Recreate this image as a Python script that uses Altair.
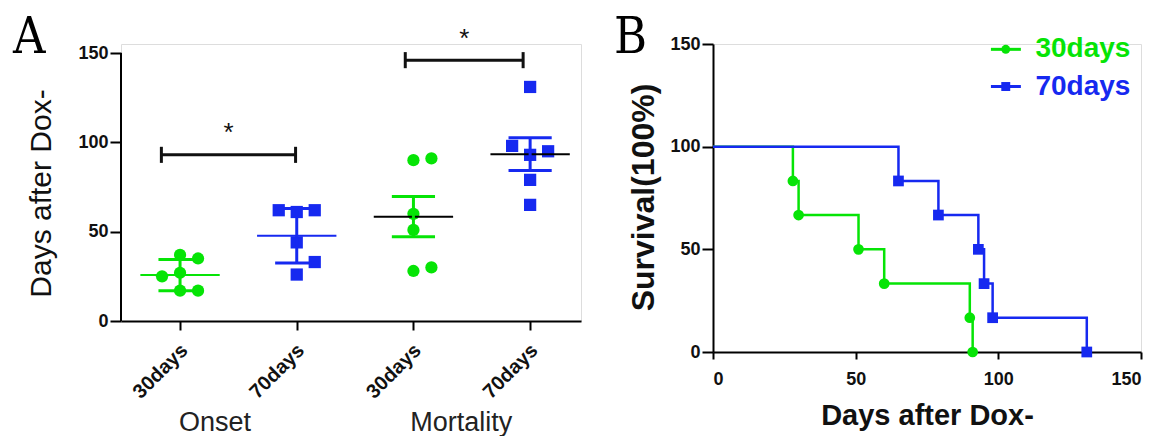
import json
import altair as alt
import pandas as pd

GREEN = "#06e406"
BLUE = "#1629f0"
SANS = "Liberation Sans"
SERIF = "DejaVu Serif Condensed, Liberation Serif"

# ---------------- data: panel A (dot plot) ----------------
a_categories = ["30days", "70days", "30days", "70days"]
a_groups = ["Onset", "Mortality"]
a_values = [
    [37, 35, 27, 25, 17, 17],
    [62, 62, 61, 44, 33, 26],
    [91, 90, 60, 51, 30, 28],
    [131, 98, 95, 93, 79, 65],
]
a_means = [25.7, 47.7, 58.4, 93.4]
a_errs = [8.7, 15.3, 11.3, 9.1]
a_sig_x1 = [0.84, 2.93]
a_sig_x2 = [1.99, 3.94]
a_sig_y = [93, 146]
a_sig_text = ["*", "*"]
a_yticks = [0, 50, 100, 150]

# ---------------- data: panel B (survival) ----------------
b_series = ["30days", "70days"]
b_times = [[28, 30, 51, 60, 90, 91], [65, 79, 93, 95, 98, 131]]
b_surv = [[83.3, 66.7, 50, 33.3, 16.7, 0], [83.3, 66.7, 50, 33.3, 16.7, 0]]
b_ticks = [0, 50, 100, 150]

# ---------------- layout constants ----------------
A_W, A_H0 = 460, 268          # plot area of A for 0..150
TOP_GAP = 9                    # A's 150 sits 9px below B's 150
A_H = A_H0 + TOP_GAP
B_W, B_H = 428, 308
A_XDOM = [0.494, 4.436]
px_x = A_W / (A_XDOM[1] - A_XDOM[0])
px_y = A_H0 / 150.0
A_YMAX = 150 + TOP_GAP / px_y
LETTER_Y = -31
LETTER_SIZE = 50
color_scale = alt.Scale(domain=b_series, range=[GREEN, BLUE])
shape_scale = alt.Scale(domain=b_series, range=["circle", "square"])


def swarm(vals, step_px=18, thresh=15):
    placed = []
    slots = [0] * len(vals)
    for i in sorted(range(len(vals)), key=lambda k: vals[k]):
        ypx = vals[i] * px_y
        for s in [0, 1, -1, 2, -2, 3, -3]:
            if all(((s - ps) * step_px) ** 2 + (ypx - py) ** 2 >= thresh ** 2 for py, ps in placed):
                slots[i] = s
                placed.append((ypx, s))
                break
    return slots


pts = []
for gi, vals in enumerate(a_values):
    for v, s in zip(vals, swarm(vals)):
        pts.append({"x": gi + 1 + s * 18 / px_x, "v": v, "series": a_categories[gi]})
pts = pd.DataFrame(pts)

stats = pd.DataFrame({
    "pos": [i + 1 for i in range(4)],
    "mean": a_means,
    "lo": [m - e for m, e in zip(a_means, a_errs)],
    "hi": [m + e for m, e in zip(a_means, a_errs)],
    "col": [(GREEN if c == "30days" else BLUE) if i < 2 else "black" for i, c in enumerate(a_categories)],
    "ecol": [GREEN if c == "30days" else BLUE for c in a_categories],
})
stats["m1"] = stats["pos"] - 0.34
stats["m2"] = stats["pos"] + 0.34
stats["c1"] = stats["pos"] - 0.185
stats["c2"] = stats["pos"] + 0.185
caps = pd.concat([
    stats.assign(cy=stats["lo"]),
    stats.assign(cy=stats["hi"]),
])

sig = pd.DataFrame({"x1": a_sig_x1, "x2": a_sig_x2, "y": a_sig_y, "t": a_sig_text})
sig["xm"] = (sig["x1"] + sig["x2"]) / 2
sig["ys"] = sig["y"] + 12
sig_caps = pd.concat([
    pd.DataFrame({"x": sig["x1"], "ya": sig["y"] - 4.5, "yb": sig["y"] + 4.5}),
    pd.DataFrame({"x": sig["x2"], "ya": sig["y"] - 4.5, "yb": sig["y"] + 4.5}),
])
grp = pd.DataFrame({"x": [1.30, 3.41], "t": a_groups})
yline = pd.DataFrame({"y0": [min(a_yticks)], "y1": [max(a_yticks)]})

label_expr = json.dumps(a_categories) + "[datum.value - 1]"
xs_a = alt.Scale(domain=A_XDOM, nice=False, zero=False)
ys_a = alt.Scale(domain=[0, A_YMAX], nice=False)
x_axis_a = alt.Axis(values=[1, 2, 3, 4], labelExpr=label_expr, labelAngle=-45,
                    labelAlign="right", labelBaseline="middle", labelFontSize=20,
                    labelFontWeight="bold", labelFont=SANS, labelColor="#111",
                    labelPadding=17, labelOffset=4, tickSize=9, tickWidth=2,
                    tickColor="black", domainColor="black", domainWidth=2,
                    grid=False, title=None)
y_axis_a = alt.Axis(values=a_yticks, format="d", labelFontSize=18, labelFontWeight="bold",
                    labelFont=SANS, labelColor="#111", labelPadding=2, tickSize=11, tickWidth=2,
                    tickColor="black", domain=False, grid=False,
                    title="Days after Dox-", titleFont=SANS, titleFontSize=30,
                    titleFontWeight="normal", titleColor="#111", titleX=-71, titleY=149,
                    titleAngle=270, titleAlign="center", titleBaseline="alphabetic")


def XA(f):
    return alt.X(f, type="quantitative", scale=xs_a, axis=x_axis_a, title=None)


def YA(f):
    return alt.Y(f, type="quantitative", scale=ys_a, axis=y_axis_a, title="Days after Dox-")


yaxis_line = alt.Chart(yline).mark_rule(strokeWidth=2, color="black").encode(
    x=alt.value(0), y=YA("y0"), y2="y1")
points_a = alt.Chart(pts).mark_point(filled=True, opacity=1, size=150).encode(
    x=XA("x"), y=YA("v"),
    color=alt.Color("series:N", scale=color_scale, legend=None),
    shape=alt.Shape("series:N", scale=shape_scale, legend=None),
)
mean_a = alt.Chart(stats).mark_rule(strokeWidth=2).encode(
    x=XA("m1"), x2="m2", y=YA("mean"), color=alt.Color("col:N", scale=None))
err_a = alt.Chart(stats).mark_rule(strokeWidth=3).encode(
    x=XA("pos"), y=YA("lo"), y2="hi", color=alt.Color("ecol:N", scale=None))
cap_a = alt.Chart(caps).mark_rule(strokeWidth=3).encode(
    x=XA("c1"), x2="c2", y=YA("cy"), color=alt.Color("ecol:N", scale=None))
br_a = alt.Chart(sig).mark_rule(strokeWidth=3, color="#111").encode(
    x=XA("x1"), x2="x2", y=YA("y"))
brc_a = alt.Chart(sig_caps).mark_rule(strokeWidth=3, color="#111").encode(
    x=XA("x"), y=YA("ya"), y2="yb")
star_a = alt.Chart(sig).mark_text(fontSize=26, font=SANS, color="#111", baseline="middle").encode(
    x=XA("xm"), y=YA("ys"), text="t:N")
grp_a = alt.Chart(grp).mark_text(fontSize=27, font=SANS, color="#222", baseline="alphabetic",
                                  align="center").encode(
    x=XA("x"), y=alt.value(387), text="t:N")
letter_a = alt.Chart(pd.DataFrame({"t": ["A"]})).mark_text(
    fontSize=LETTER_SIZE, font=SERIF, color="black", align="left", baseline="top").encode(
    x=alt.value(-108), y=alt.value(LETTER_Y), text="t:N")

panel_a = alt.layer(yaxis_line, points_a, mean_a, err_a, cap_a, br_a, brc_a, star_a, grp_a,
                    letter_a).properties(width=A_W, height=A_H)

# ---------------- panel B ----------------
rows = []
for s, ts, ss in zip(b_series, b_times, b_surv):
    rows.append({"series": s, "t": 0, "s": 100, "order": 0, "mark": False})
    for k, (t, v) in enumerate(zip(ts, ss)):
        rows.append({"series": s, "t": t, "s": v, "order": k + 1, "mark": True})
surv = pd.DataFrame(rows)

xs_b = alt.Scale(domain=[0, 150], nice=False)
ys_b = alt.Scale(domain=[0, 150], nice=False)
x_axis_b = alt.Axis(values=b_ticks, format="d", labelFontSize=18, labelFontWeight="bold",
                    labelFont=SANS, labelColor="#111", labelPadding=11, tickSize=7, tickWidth=2,
                    tickColor="black", domainColor="black", domainWidth=2, grid=False,
                    title="Days after Dox-", titleFont=SANS, titleFontSize=29,
                    titleFontWeight="bold", titleColor="#111", titleX=B_W / 2, titleY=72,
                    titleAlign="center", titleBaseline="alphabetic")
y_axis_b = alt.Axis(values=b_ticks, format="d", labelFontSize=18, labelFontWeight="bold",
                    labelFont=SANS, labelColor="#111", labelPadding=2, tickSize=11, tickWidth=2,
                    tickColor="black", domainColor="black", domainWidth=2, grid=False,
                    title="Survival(100%)", titleFont=SANS, titleFontSize=32,
                    titleFontWeight="bold", titleColor="#111", titleX=-60, titleY=153,
                    titleAngle=270, titleAlign="center", titleBaseline="alphabetic")


def XB(f):
    return alt.X(f, type="quantitative", scale=xs_b, axis=x_axis_b, title="Days after Dox-")


def YB(f):
    return alt.Y(f, type="quantitative", scale=ys_b, axis=y_axis_b, title="Survival(100%)")


lines_b = alt.Chart(surv).mark_line(interpolate="step-after", strokeWidth=2.5).encode(
    x=XB("t"), y=YB("s"),
    color=alt.Color("series:N", scale=color_scale, legend=None),
    order="order:Q", detail="series:N",
)
marks_b = alt.Chart(surv).transform_filter("datum.mark").mark_point(
    filled=True, opacity=1, size=115).encode(
    x=XB("t"), y=YB("s"),
    color=alt.Color("series:N", scale=color_scale, legend=None),
    shape=alt.Shape("series:N", scale=shape_scale, legend=None),
)

leg = pd.DataFrame({"series": b_series, "y": [147.4, 129.3]})
leg["x1"] = 97.4
leg["x2"] = 107.9
leg["xm"] = 102.6
leg["xt"] = 113.0
leg_line = alt.Chart(leg).mark_rule(strokeWidth=3).encode(
    x=XB("x1"), x2="x2", y=YB("y"),
    color=alt.Color("series:N", scale=color_scale, legend=None))
leg_pt = alt.Chart(leg).mark_point(filled=True, opacity=1, size=80).encode(
    x=XB("xm"), y=YB("y"),
    color=alt.Color("series:N", scale=color_scale, legend=None),
    shape=alt.Shape("series:N", scale=shape_scale, legend=None))
leg_txt = alt.Chart(leg).mark_text(fontSize=28, fontWeight="bold", font=SANS, align="left",
                                   baseline="middle").encode(
    x=XB("xt"), y=YB("y"), text="series:N",
    color=alt.Color("series:N", scale=color_scale, legend=None))
letter_b = alt.Chart(pd.DataFrame({"t": ["B"]})).mark_text(
    fontSize=LETTER_SIZE, font=SERIF, color="black", align="left", baseline="top").encode(
    x=alt.value(-99), y=alt.value(LETTER_Y), text="t:N")

panel_b = alt.layer(lines_b, marks_b, leg_line, leg_pt, leg_txt, letter_b).properties(
    width=B_W, height=B_H)

chart = alt.hconcat(panel_a, panel_b, spacing=31).properties(
    padding={"left": 4, "top": 4, "right": 0, "bottom": 0}
).configure_view(stroke=None).configure(background="white")

chart.save("out.html", embed_options={"renderer": "svg", "actions": False})
